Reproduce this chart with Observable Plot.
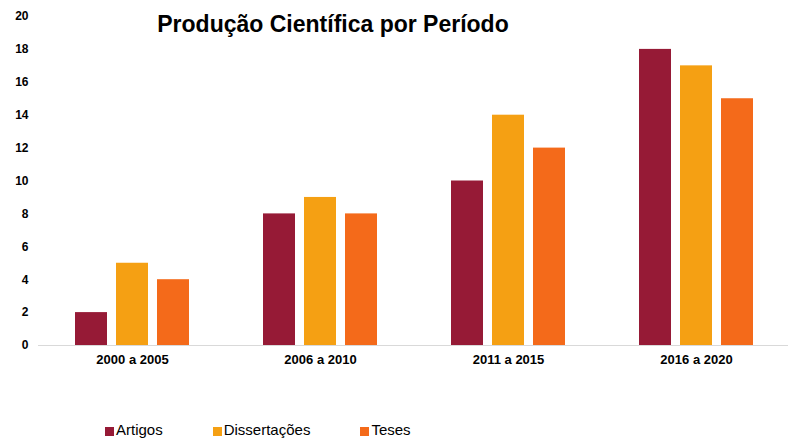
<!DOCTYPE html>
<html>
<head>
<meta charset="utf-8">
<script src="https://cdn.jsdelivr.net/npm/d3@7"></script>
<script src="https://cdn.jsdelivr.net/npm/@observablehq/plot@0.6"></script>
<style>
  html, body { margin: 0; padding: 0; background: #fff; }
  #wrap { position: relative; width: 788px; height: 438px; overflow: hidden; font-family: "Liberation Sans", Arial, sans-serif; }
  #title { position: absolute; left: 0; width: 666px; top: 13px; text-align: center; font-weight: bold; font-size: 23px; color: #000; line-height: 1; }
  #legend { position: absolute; left: 105px; top: 421px; display: flex; gap: 50px; font-size: 15px; color: #000; line-height: 18px; }
  #legend .item { display: flex; align-items: center; }
  #legend .sw { width: 9px; height: 9px; margin-right: 2px; margin-top: 3px; }
</style>
</head>
<body>
<div id="wrap">
  <div id="chart"></div>
  <div id="title">Produção Científica por Período</div>
  <div id="legend"></div>
</div>
<script>
const periods = ["2000 a 2005", "2006 a 2010", "2011 a 2015", "2016 a 2020"];
const series = ["Artigos", "Dissertações", "Teses"];
const colors = ["#961a36", "#f5a013", "#f46a1a"];
const artigos = [2, 8, 10, 18];
const dissertacoes = [5, 9, 14, 17];
const teses = [4, 8, 12, 15];
const yTicks = [0, 2, 4, 6, 8, 10, 12, 14, 16, 18, 20];

const valuesBySeries = [artigos, dissertacoes, teses];
const data = [];
periods.forEach((p, i) => series.forEach((s, j) => data.push({period: p, series: s, value: valuesBySeries[j][i]})));

const chart = Plot.plot({
  width: 788,
  height: 380,
  marginLeft: 37,
  marginRight: -3,
  marginTop: 16,
  marginBottom: 35,
  style: {fontFamily: "'Liberation Sans', Arial, sans-serif", background: "#fff", color: "#000", overflow: "visible"},
  fx: {domain: periods, padding: 0, label: null, axis: "bottom", tickSize: 0, tickPadding: 9},
  x: {domain: series, axis: null, paddingInner: 0.216, paddingOuter: 0.87},
  y: {domain: [0, 20], ticks: yTicks, tickSize: 0, tickPadding: 10, label: null},
  color: {domain: series, range: colors},
  marks: [
    Plot.barY(data, {fx: "period", x: "series", y: "value", fill: "series"}),
    Plot.ruleY([0], {stroke: "#d9d9d9", strokeWidth: 1})
  ]
});
chart.querySelectorAll('[aria-label="y-axis tick label"]').forEach(el => { el.style.fontWeight = "bold"; el.style.fontSize = "12px"; });
chart.querySelectorAll('[aria-label="fx-axis tick label"]').forEach(el => { el.style.fontWeight = "bold"; el.style.fontSize = "13px"; });
document.getElementById("chart").appendChild(chart);

const legend = document.getElementById("legend");
series.forEach((s, i) => {
  const item = document.createElement("div");
  item.className = "item";
  const sw = document.createElement("span");
  sw.className = "sw";
  sw.style.background = colors[i];
  const t = document.createElement("span");
  t.textContent = s;
  item.appendChild(sw); item.appendChild(t);
  legend.appendChild(item);
});
</script>
</body>
</html>
